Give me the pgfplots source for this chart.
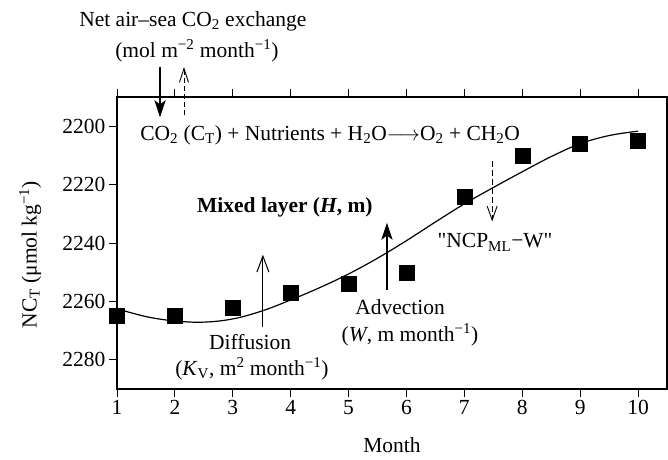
\documentclass[border=0pt]{standalone}
\usepackage{pgfplots}
\pgfplotsset{compat=1.18}
\usetikzlibrary{arrows.meta}
\usepackage{fontspec}
\setmainfont{Liberation Serif}
\newcommand\fs{\fontsize{21.5bp}{25bp}\selectfont}
\begin{document}
\begin{tikzpicture}
\path[use as bounding box] (0,0) rectangle (668bp,460bp);
\begin{axis}[
  at={(117bp,71bp)}, anchor=south west,
  scale only axis, width=550bp, height=292bp,
  xmin=1, xmax=10.5, ymin=2190, ymax=2290, y dir=reverse,
  xtick={1,...,10}, ytick={2200,2220,2240,2260,2280},
  xtick pos=both, ytick pos=left, tick align=outside,
  major tick length=8bp,
  axis line style={line width=1.1bp},
  tick style={line width=1bp, black},
  /pgf/number format/assume math mode=true,
  /pgf/number format/1000 sep={},
  tick label style={font=\fs},
  clip=false,
]
\addplot[black, line width=1.2bp, smooth, tension=0.6] coordinates {
 (1,2262.5) (1.5,2265.2) (2,2266.7) (2.5,2267.1) (3,2266) (3.5,2263.3)
 (4,2259.5) (4.5,2255.3) (5,2250.6) (5.5,2245.2) (6,2239.2) (6.5,2232.8)
 (7,2226.6) (7.5,2221) (8,2215.6) (8.5,2210.4) (9,2206) (9.5,2203.2) (10,2201.7)};
\addplot[only marks, mark=square*, mark size=7.5bp, black] coordinates {
 (1,2265) (2,2265) (3,2262) (4,2257) (5,2254) (6,2250) (7,2224) (8,2210) (9,2206) (10,2205)};

% top annotation
\node[font=\fs] at (axis cs:2.31,2164) {Net air–sea CO\textsubscript{2} exchange};
\node[font=\fs] at (axis cs:2.38,2174.2) {(mol m\textsuperscript{−2} month\textsuperscript{−1})};
\draw[line width=2.6bp, -{Stealth[length=17bp,width=11bp,inset=4bp]}] (axis cs:1.743,2179.7) -- (axis cs:1.743,2197);
\draw[line width=0.9bp, dash pattern=on 5bp off 3bp, -{Straight Barb[length=14bp,width=9bp]}] (axis cs:2.157,2196) -- (axis cs:2.157,2179.7);

% reaction
\node[font=\fs, anchor=west, inner sep=0pt] at (axis cs:1.40,2203.1) {CO\textsubscript{2} (C\textsubscript{T}) + Nutrients + H\textsubscript{2}O$\longrightarrow$O\textsubscript{2} + CH\textsubscript{2}O};
\draw[line width=0.9bp, dash pattern=on 6bp off 3bp, -{Straight Barb[length=14bp,width=10bp]}] (axis cs:7.48,2212) -- (axis cs:7.48,2232.6);
\node[font=\fs] at (axis cs:7.53,2239.8) {\textquotedbl NCP\textsubscript{ML}−W\textquotedbl};

% mixed layer
\node[font=\fs\bfseries] at (axis cs:3.90,2227.8) {Mixed layer (\textit{H}, m)};

% advection
\draw[line width=2.6bp, -{Stealth[length=17bp,width=11bp,inset=4bp]}] (axis cs:5.663,2256) -- (axis cs:5.663,2233);
\node[font=\fs] at (axis cs:5.89,2262.1) {Advection};
\node[font=\fs] at (axis cs:6.06,2271.4) {(\textit{W}, m month\textsuperscript{−1})};

% diffusion
\draw[line width=1bp, -{Straight Barb[length=16bp,width=12bp]}] (axis cs:3.52,2268.7) -- (axis cs:3.52,2244);
\node[font=\fs] at (axis cs:3.30,2273.8) {Diffusion};
\node[font=\fs] at (axis cs:3.33,2283.1) {(\textit{K}\textsubscript{V}, m\textsuperscript{2} month\textsuperscript{−1})};

% axis labels
\node[font=\fs, rotate=90] at (axis cs:-0.50,2244) {NC\textsubscript{T} (μmol kg\textsuperscript{−1})};
\node[font=\fs] at (axis cs:5.75,2309.2) {Month};
\end{axis}
\end{tikzpicture}
\end{document}
